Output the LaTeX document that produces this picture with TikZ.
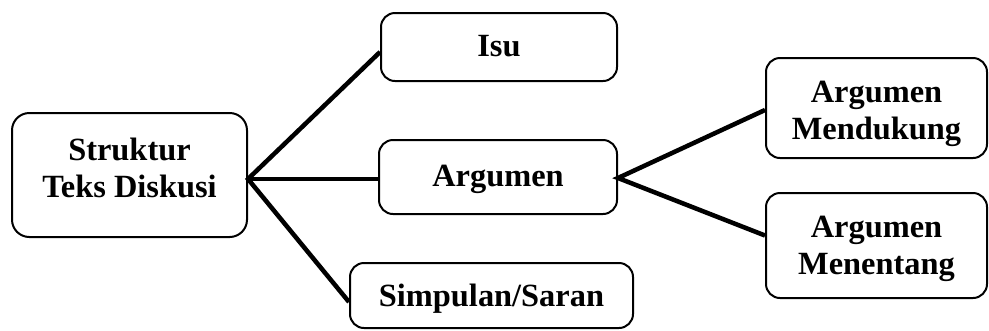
\documentclass[tikz,border=0pt]{standalone}
\usepackage{fontspec}
\setmainfont{Liberation Serif}
\usetikzlibrary{calc}
\begin{document}
\begin{tikzpicture}[x=0.75pt,y=-0.75pt,
  box/.style={draw, line width=1.5pt, rounded corners=10.5pt, inner sep=0pt},
  lbl/.style={anchor=base, align=center, inner sep=0pt, font=\fontsize{24.3pt}{27.75pt}\selectfont\bfseries},
  link/.style={line width=3.4pt}]
\useasboundingbox (0,0) rectangle (989,330);
% boxes
\node[box, rounded corners=13pt, minimum width=235*0.75pt, minimum height=124*0.75pt] (S) at (129.5,175) {};
\node[box, minimum width=236*0.75pt, minimum height=68*0.75pt] (Isu) at (499,47) {};
\node[box, minimum width=238*0.75pt, minimum height=74*0.75pt] (Arg) at (498,177) {};
\node[box, minimum width=283*0.75pt, minimum height=65*0.75pt] (Simp) at (491.5,295.5) {};
\node[box, minimum width=221*0.75pt, minimum height=100*0.75pt] (Mend) at (876.5,108) {};
\node[box, minimum width=221*0.75pt, minimum height=105*0.75pt] (Ment) at (876.5,245.5) {};
% texts (base = baseline of last line)
\node[lbl] (tS) at (129.5,197) {Struktur\\Teks Diskusi};
\node[lbl] (tIsu) at (499,56) {Isu};
\node[lbl] (tArg) at (498,186) {Argumen};
\node[lbl] (tSimp) at (491.5,306) {Simpulan/Saran};
\node[lbl] (tMend) at (876.5,139) {Argumen\\Mendukung};
\node[lbl] (tMent) at (876.5,274) {Argumen\\Menentang};
% connectors
\coordinate (o) at ($(S.east)+(0,4)$);
\coordinate (isuend) at ($(Isu.west)+(0,5)$);
\coordinate (simpend) at ($(Simp.west)+(0,6.5)$);
\coordinate (a) at ($(Arg.east)+(0,1)$);
\coordinate (mendend) at ($(Mend.west)+(0,2)$);
\coordinate (mentend) at ($(Ment.west)+(0,-10)$);
\draw[link] (isuend) -- (o) -- (simpend);
\draw[link] (o) -- (o -| Arg.west);
\draw[link] (mendend) -- (a) -- (mentend);
\end{tikzpicture}
\end{document}
